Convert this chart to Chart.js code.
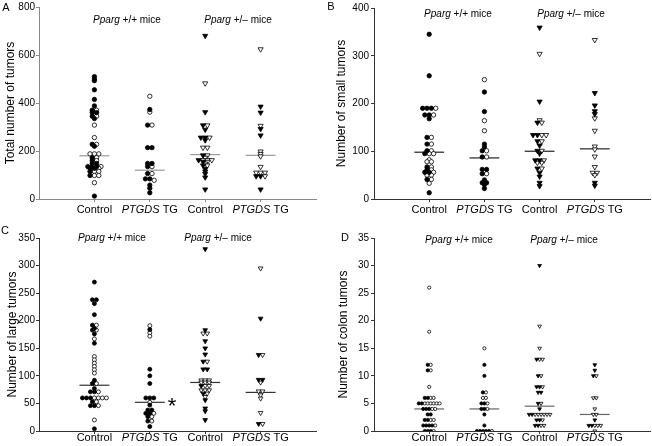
<!DOCTYPE html>
<html>
<head>
<meta charset="utf-8">
<script src="https://cdn.jsdelivr.net/npm/chart.js@4.4.1/dist/chart.umd.min.js"></script>
<style>
body { margin: 0; background: #fff; }
#wrap { position: relative; width: 652px; height: 446px; }
canvas { position: absolute; }
</style>
</head>
<body>
<div id="wrap">
<canvas id="cA" width="326" height="223" style="left:0;top:0"></canvas>
<canvas id="cB" width="326" height="223" style="left:326px;top:0"></canvas>
<canvas id="cC" width="326" height="223" style="left:0;top:223px"></canvas>
<canvas id="cD" width="326" height="223" style="left:326px;top:223px"></canvas>
</div>
<script>
var groupLabels = ["Control", "PTGDS TG", "Control", "PTGDS TG"];

// A - total number of tumors (filled / open markers per group)
var totalFilled = [
  [510, 500, 493, 455, 415, 388, 370, 360, 360, 345, 335, 228, 220, 172, 160, 148, 148, 135, 135, 135, 128, 128, 115, 98, 12],
  [373, 308, 214, 214, 148, 148, 135, 106, 84, 84, 58, 45, 26],
  [680, 362, 307, 289, 256, 256, 245, 182, 162, 155, 140, 125, 115, 105, 90, 40],
  [385, 360, 292, 265, 95, 95, 40]
];
var totalOpen = [
  [370, 345, 308, 256, 228, 188, 188, 188, 172, 160, 135, 128, 115, 115, 98, 98, 68],
  [428, 362, 308, 135, 106, 78],
  [482, 307, 256, 214, 214, 182, 172, 162, 162, 162, 155, 148, 140],
  [624, 305, 198, 188, 178, 134, 110, 110, 110, 95]
];
var totalMedian = [180, 120, 185, 182];
var totalTicks = [0, 200, 400, 600, 800];

// B - small tumors
var smallFilled = [
  [345, 258, 190, 190, 190, 176, 176, 168, 129, 115, 101, 95, 67, 61, 56, 56, 41, 13],
  [224, 183, 115, 109, 101, 88, 62, 62, 53, 40, 34, 34, 30, 22],
  [359, 204, 160, 134, 134, 121, 112, 101, 95, 81, 81, 64, 55, 47, 34, 27],
  [222, 196, 184, 178, 34, 28]
];
var smallOpen = [
  [190, 176, 129, 115, 101, 95, 95, 82, 78, 78, 67, 61, 56, 50, 50, 41, 33],
  [250, 164, 143, 101, 88, 53],
  [304, 165, 160, 134, 134, 121, 101, 81, 76, 76, 64],
  [333, 169, 143, 110, 104, 89, 67, 55, 55, 50]
];
var smallMedian = [98, 86, 100, 105];
var smallTicks = [0, 100, 200, 300, 400];

// C - large tumors
var largeFilled = [
  [270, 238, 238, 231, 211, 192, 186, 183, 176, 159, 92, 86, 77, 71, 71, 60, 60, 60, 53, 46, 46, 4],
  [184, 112, 100, 86, 60, 60, 60, 47, 38, 38, 32, 32, 26, 18, 8],
  [330, 183, 163, 150, 139, 126, 112, 112, 82, 68, 56, 41, 36, 20],
  [204, 138, 93, 93, 13]
];
var largeOpen = [
  [192, 183, 167, 135, 129, 123, 117, 111, 105, 86, 71, 60, 60, 60, 60, 53, 46, 20],
  [191, 178, 172, 52, 32, 26, 18],
  [177, 177, 126, 92, 92, 92, 88, 88, 88, 82, 82, 74, 74, 74, 68, 62],
  [295, 138, 88, 72, 72, 65, 59, 33, 13]
];
var largeMedian = [83, 52, 88, 70];
var largeTicks = [0, 50, 100, 150, 200, 250, 300, 350];

// D - colon tumors
var colonFilled = [
  [12, 11, 6, 6, 5, 5, 4, 4, 4, 3, 3, 2, 2, 1, 1, 1, 1, 0, 0, 0],
  [12, 10, 7, 5, 5, 4, 4, 3, 1, 0, 0, 0, 0, 0],
  [30, 13, 10, 8, 8, 7, 7, 5, 4, 3, 3, 2, 2, 1, 1],
  [12, 11, 10, 2, 1, 1]
];
var colonOpen = [
  [26, 18, 12, 11, 8, 6, 6, 5, 5, 5, 5, 5, 5, 4, 4, 2, 2, 1, 0],
  [15, 7, 6, 6, 5, 4, 0],
  [19, 15, 13, 13, 10, 8, 5, 3, 3, 3, 3, 3, 3, 2, 1, 1],
  [10, 6, 6, 4, 3, 3, 1, 1, 1, 0]
];
var colonMedian = [4, 4, 4.5, 3];
var colonTicks = [0, 5, 10, 15, 20, 25, 30, 35];

var FONT = "'Liberation Sans', Arial, sans-serif";

var panels = [
  { canvas: "cA", letter: "A", title: "Total number of tumors", filled: totalFilled, open: totalOpen,
    median: totalMedian, ticks: totalTicks, axisW: 39, padTop: 6, padRight: 10, xH: 24, titlePad: 3,
    tickPad: 1, r: 2.2, dodgePx: 4.4, labelDy: 11, axisColor: "#888", medianColor: "#999",
    letterPos: [6, 8], notes: [[127, 20, "+/+"], [238, 20, "+/\u2013"]], star: null },
  { canvas: "cB", letter: "B", title: "Number of small tumors", filled: smallFilled, open: smallOpen,
    median: smallMedian, ticks: smallTicks, axisW: 48, padTop: 6, padRight: 2, xH: 24, titlePad: 8,
    tickPad: 2, r: 2.2, dodgePx: 4.4, labelDy: 11, axisColor: "#333", medianColor: "#222",
    letterPos: [5, 7], notes: [[132, 14, "+/+"], [245, 14, "+/\u2013"]], star: null },
  { canvas: "cC", letter: "C", title: "Number of large tumors", filled: largeFilled, open: largeOpen,
    median: largeMedian, ticks: largeTicks, axisW: 39, padTop: 15, padRight: 10, xH: 15, titlePad: 5,
    tickPad: 1, r: 2.0, dodgePx: 4.0, labelDy: 7, axisColor: "#333", medianColor: "#333",
    letterPos: [5, 8], notes: [[112, 15, "+/+"], [218, 15, "+/\u2013"]], star: [172, 180] },
  { canvas: "cD", letter: "D", title: "Number of colon tumors", filled: colonFilled, open: colonOpen,
    median: colonMedian, ticks: colonTicks, axisW: 48, padTop: 15, padRight: 2, xH: 15, titlePad: 10,
    tickPad: 2, r: 1.6, dodgePx: 3.0, labelDy: 7, axisColor: "#333", medianColor: "#666",
    letterPos: [19, 15], notes: [[133, 17, "+/+"], [238, 17, "+/\u2013"]], star: null }
];

function mixed(ctx, parts, cx, cy, size) {
  var total = 0;
  parts.forEach(function (p) {
    ctx.font = (p[1] ? "italic " : "") + size + "px " + FONT;
    p.w = ctx.measureText(p[0]).width;
    total += p.w;
  });
  var x = cx - total / 2;
  ctx.textAlign = "left";
  parts.forEach(function (p) {
    ctx.font = (p[1] ? "italic " : "") + size + "px " + FONT;
    ctx.fillText(p[0], x, cy);
    x += p.w;
  });
}

var panelText = {
  id: "panelText",
  afterDraw: function (chart, args, opts) {
    var ctx = chart.ctx, xs = chart.scales.x;
    ctx.save();
    ctx.fillStyle = "#000";
    ctx.textBaseline = "middle";
    for (var i = 0; i < groupLabels.length; i++) {
      var x = xs.getPixelForValue(i + 1), y = xs.top + opts.labelDy;
      var lab = groupLabels[i];
      if (lab.indexOf("PTGDS") == 0) mixed(ctx, [["PTGDS", true], [lab.slice(5), false]], x, y, 11);
      else mixed(ctx, [[lab, false]], x, y, 11);
    }
    opts.notes.forEach(function (n) {
      mixed(ctx, [["Pparg", true], [" " + n[2] + " mice", false]], n[0], n[1], 10);
    });
    ctx.font = "11px " + FONT;
    ctx.textAlign = "center";
    ctx.fillText(opts.letter, opts.letterPos[0], opts.letterPos[1]);
    if (opts.star) {
      ctx.font = "22px " + FONT;
      ctx.fillText("*", opts.star[0], opts.star[1] + 4);
    }
    ctx.restore();
  }
};

// spread points of nearly equal value side by side (filled first, then open)
function dodge(filled, open, g, yMax, dodgePx) {
  var pts = filled.map(function (v) { return { v: v, f: true }; })
    .concat(open.map(function (v) { return { v: v, f: false }; }));
  pts.sort(function (a, b) { return b.v - a.v; });
  var thr = 1.5 * yMax / 193;
  var rows = [];
  pts.forEach(function (p) {
    var last = rows[rows.length - 1];
    if (last && last[0].v - p.v < thr) last.push(p);
    else rows.push([p]);
  });
  var dx = dodgePx / 55.5;
  var outF = [], outO = [];
  rows.forEach(function (row) {
    row.sort(function (a, b) { return (b.f ? 1 : 0) - (a.f ? 1 : 0); });
    var n = row.length;
    row.forEach(function (p, i) {
      var pt = { x: g + 1 + (i - (n - 1) / 2) * dx, y: p.v };
      (p.f ? outF : outO).push(pt);
    });
  });
  return [outF, outO];
}

panels.forEach(function (P) {
  var yMax = P.ticks[P.ticks.length - 1];
  var datasets = [];
  for (var g = 0; g < 4; g++) {
    var tri = g >= 2;
    var d = dodge(P.filled[g], P.open[g], g, yMax, P.dodgePx);
    var common = {
      pointStyle: tri ? "triangle" : "circle",
      pointRotation: tri ? 180 : 0,
      pointRadius: tri ? P.r * 1.35 : P.r,
      pointBorderWidth: 0.8,
      pointBorderColor: "#000",
      showLine: false,
      order: 1
    };
    datasets.push(Object.assign({ data: d[0], pointBackgroundColor: "#000" }, common));
    datasets.push(Object.assign({ data: d[1], pointBackgroundColor: "#fff" }, common));
    datasets.push({
      data: [{ x: g + 1 - 0.27, y: P.median[g] }, { x: g + 1 + 0.27, y: P.median[g] }],
      showLine: true, pointRadius: 0, borderColor: P.medianColor, borderWidth: 1.2, order: 2
    });
  }
  new Chart(document.getElementById(P.canvas), {
    type: "scatter",
    data: { datasets: datasets },
    plugins: [panelText],
    options: {
      responsive: false,
      animation: false,
      layout: { autoPadding: false, padding: { left: 0, top: P.padTop, right: P.padRight, bottom: 0 } },
      plugins: {
        legend: { display: false },
        tooltip: { enabled: false },
        panelText: { labelDy: P.labelDy, notes: P.notes, letter: P.letter, letterPos: P.letterPos, star: P.star }
      },
      scales: {
        x: {
          type: "linear", min: 0, max: 5,
          afterBuildTicks: function (ax) { ax.ticks = [1, 2, 3, 4].map(function (v) { return { value: v }; }); },
          afterFit: function (s) { s.height = P.xH; },
          ticks: { display: false },
          grid: { display: true, drawOnChartArea: false, drawTicks: true, tickLength: 3, color: P.axisColor },
          border: { display: true, color: P.axisColor, width: 1 }
        },
        y: {
          min: 0, max: yMax,
          afterBuildTicks: function (ax) { ax.ticks = P.ticks.map(function (v) { return { value: v }; }); },
          afterFit: function (s) { s.width = P.axisW; },
          ticks: { color: "#000", font: { family: FONT, size: 10 }, padding: P.tickPad },
          grid: { display: true, drawOnChartArea: false, drawTicks: true, tickLength: 3, color: P.axisColor },
          border: { display: true, color: P.axisColor, width: 1 },
          title: { display: true, text: P.title, color: "#000", font: { family: FONT, size: 12 },
                   padding: { top: P.titlePad, bottom: 0 } }
        }
      }
    }
  });
});
</script>
</body>
</html>
